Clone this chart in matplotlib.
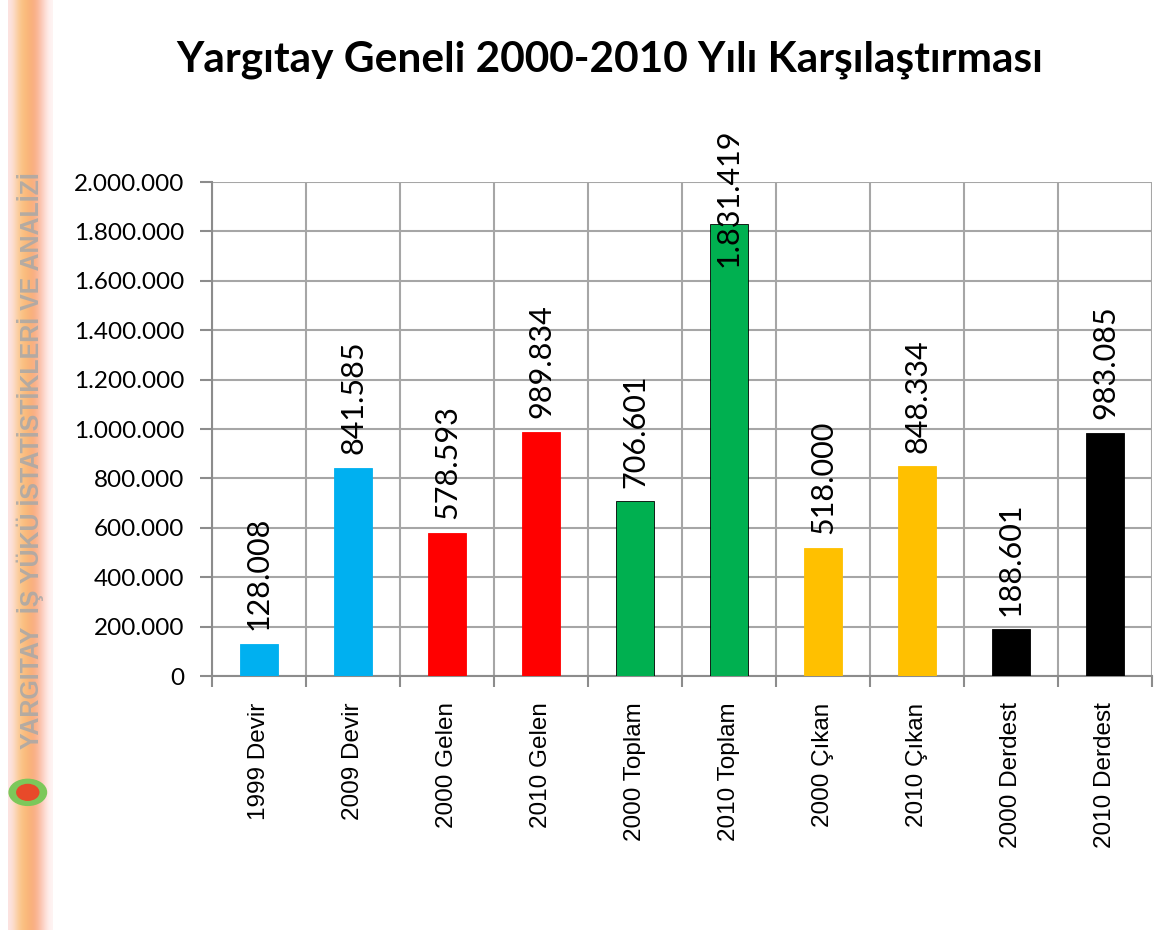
import numpy as np
import matplotlib
matplotlib.use("Agg")
import matplotlib.pyplot as plt
from matplotlib.patches import Ellipse
from matplotlib.ticker import FuncFormatter, MultipleLocator

# values
categories = ["1999 Devir", "2009 Devir", "2000 Gelen", "2010 Gelen", "2000 Toplam",
              "2010 Toplam", "2000 Çıkan", "2010 Çıkan", "2000 Derdest", "2010 Derdest"]
values = [128008, 841585, 578593, 989834, 706601, 1831419, 518000, 848334, 188601, 983085]
bar_colors = ["#00B0F0", "#00B0F0", "#FF0000", "#FF0000", "#00B050",
              "#00B050", "#FFC000", "#FFC000", "#000000", "#000000"]

title = "Yargıtay Geneli 2000-2010 Yılı Karşılaştırması"
side_text = "YARGITAY  İŞ YÜKÜ İSTATİSTİKLERİ VE ANALİZİ"

plt.rcParams["font.family"] = ["Lato", "DejaVu Sans"]


def tr_thousands(v, pos=None):
    return f"{int(round(v)):,}".replace(",", ".")


fig = plt.figure(figsize=(11.55, 9.3), dpi=100)

# left decorative strip
strip = fig.add_axes([8 / 1155, 0, 44 / 1155, 1])
grad = np.array([[253, 228, 228], [251, 200, 140], [250, 185, 120],
                 [249, 170, 125], [252, 200, 185], [255, 245, 245]]) / 255.0
strip.imshow(grad[np.newaxis, :, :], aspect="auto", extent=[0, 1, 0, 1],
             interpolation="bicubic")
strip.text(0.5, 0.505, side_text, rotation=90, ha="center", va="center",
           fontsize=18, fontweight="bold", color="#a8a8a8", alpha=0.85,
           transform=strip.transAxes, family=["Liberation Sans Narrow", "Liberation Sans"])
strip.add_patch(Ellipse((0.45, 0.148), 0.85, 0.028, color="#7cc85a", transform=strip.transAxes))
strip.add_patch(Ellipse((0.45, 0.148), 0.5, 0.017, color="#e84a2a", transform=strip.transAxes))
strip.set_xlim(0, 1)
strip.set_ylim(0, 1)
strip.axis("off")

# main chart
ax = fig.add_axes([212 / 1155, 1 - 676 / 930, 940 / 1155, 494 / 930])
x = np.arange(len(categories))
edges = ["#000000" if c == "#00B050" else c for c in bar_colors]
ax.bar(x, values, width=0.4, color=bar_colors, edgecolor=edges, linewidth=0.6, zorder=3)

ax.set_xlim(-0.5, len(categories) - 0.5)
ax.set_ylim(0, 2000000)
ax.yaxis.set_major_locator(MultipleLocator(200000))
ax.yaxis.set_major_formatter(FuncFormatter(tr_thousands))

ax.set_xticks(x)
ax.set_xticklabels(categories, rotation=90, fontsize=17.5, va="top", ha="center",
                   family=["Liberation Sans", "DejaVu Sans"])
ax.set_xticks(np.arange(-0.5, len(categories)), minor=True)
ax.tick_params(axis="x", which="major", length=0, pad=19)
ax.tick_params(axis="x", which="minor", length=8, width=1.5, color="#8c8c8c")
ax.tick_params(axis="y", length=9, width=1.5, color="#8c8c8c", labelsize=17.5, pad=11)

ax.grid(True, axis="y", color="#a6a6a6", linewidth=1.5, zorder=0)
ax.grid(True, axis="x", which="minor", color="#a6a6a6", linewidth=1.5, zorder=0)
for side in ["top", "right"]:
    ax.spines[side].set_visible(False)
for side in ["left", "bottom"]:
    ax.spines[side].set_color("#8c8c8c")
    ax.spines[side].set_linewidth(1.5)

# data labels, rotated; the tallest one is pushed down to stay near the plot area
for xi, v in zip(x, values):
    if v > 1700000:
        ax.text(xi, 1.109, tr_thousands(v), rotation=90, ha="center", va="top",
                fontsize=22, transform=ax.get_xaxis_transform(), zorder=4)
    else:
        ax.annotate(tr_thousands(v), (xi, v), xytext=(0, 10), textcoords="offset points",
                    rotation=90, ha="center", va="bottom", fontsize=22, zorder=4)

fig.text(610 / 1155, 1 - 60 / 930, title, ha="center", va="center",
         fontsize=30.5, fontweight="bold")

fig.savefig("out.png", dpi=100, facecolor="white")
